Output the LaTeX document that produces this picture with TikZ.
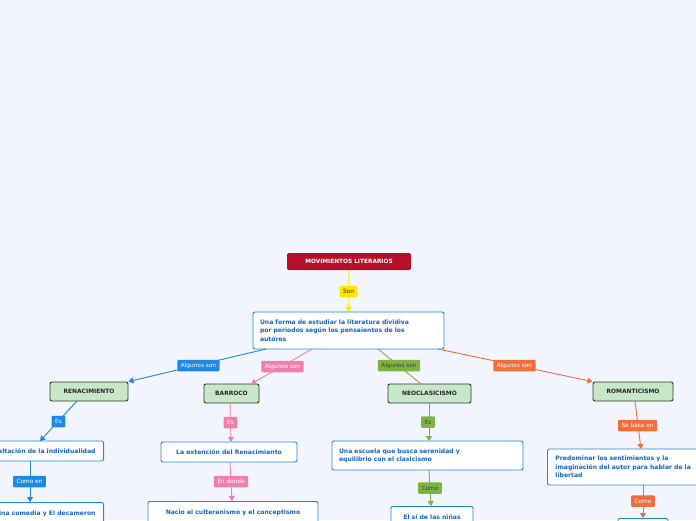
\documentclass[tikz,border=0pt]{standalone}
\usepackage{fontspec}
\setmainfont{DejaVu Sans}
\usetikzlibrary{arrows.meta}
\definecolor{bg}{RGB}{243,245,254}
\definecolor{cblue}{RGB}{30,136,229}
\definecolor{tblue}{RGB}{21,101,192}
\definecolor{cpink}{RGB}{240,128,170}
\definecolor{cgreen}{RGB}{124,179,66}
\definecolor{corange}{RGB}{240,110,60}
\definecolor{cyel}{RGB}{255,230,0}
\definecolor{cred}{RGB}{181,16,43}
\definecolor{mfill}{RGB}{200,230,201}
\definecolor{mdraw}{RGB}{40,60,45}
\tikzset{
 root/.style={fill=cred,text=white,rounded corners=2pt,font=\fontsize{5.8}{7}\selectfont\bfseries,minimum width=124pt,minimum height=17pt,inner sep=2pt},
 mainbox/.style={fill=mfill,draw=mdraw,line width=0.9pt,rounded corners=2pt,font=\fontsize{5.9}{7}\selectfont\bfseries,text=black!85,minimum height=19pt,inner sep=2pt},
 wbox/.style={fill=white,draw=cblue,line width=0.9pt,rounded corners=2pt,text=tblue,font=\fontsize{6.1}{8.3}\selectfont\bfseries,inner sep=0pt,align=left},
 lab/.style={fill=#1,text=white,font=\fontsize{5.8}{7}\selectfont,rounded corners=1pt,inner xsep=3.5pt,inner ysep=1.5pt,minimum height=11.5pt},
 con/.style={draw=#1,line width=0.9pt},
 arr/.style={con=#1,-{Triangle[length=5pt,width=6pt]}},
}
\begin{document}
\begin{tikzpicture}[x=1pt,y=-1pt]
\fill[bg] (0,0) rectangle (696,520);
\useasboundingbox (0,0) rectangle (696,520);
\clip (0,0) rectangle (696,520);
\node[root] (mov) at (349,261.5) {MOVIMIENTOS LITERARIOS};
\node[wbox,minimum width=191pt,minimum height=37pt,text width=177pt] (forma) at (348.5,330.5) {Una forma de estudiar la literatura dividiva\\por periodos según los pensaientos de los\\autores};
\node[mainbox,minimum width=78pt] (ren) at (89,391.5) {RENACIMIENTO};
\node[mainbox,minimum width=55pt] (bar) at (231.5,393.5) {BARROCO};
\node[mainbox,minimum width=83pt] (neo) at (429.5,393.5) {NEOCLASICISMO};
\node[mainbox,minimum width=80pt] (rom) at (633,391.5) {ROMANTICISMO};
\node[wbox,anchor=east,minimum height=20pt,inner xsep=8pt] (ind) at (104,451) {Exaltación de la individualidad};
\node[wbox,minimum width=136pt,minimum height=20pt,align=center] (ext) at (229,452) {La extención del Renacimiento};
\node[wbox,minimum width=191pt,minimum height=29pt,text width=177pt] (esc) at (427.5,455.5) {Una escuela que busca serenidad y\\equilibrio con el clasicismo};
\node[wbox,anchor=west,minimum height=36pt,text width=180pt,inner xsep=8pt] (pred) at (547,467) {Predominar los sentimientos y la\\imaginación del autor para hablar de la\\libertad};
\node[wbox,anchor=north east,minimum height=22pt,inner xsep=8pt] (div) at (104,502) {La Divina comedia y El decameron};
\node[wbox,anchor=north,minimum width=170pt,minimum height=22pt,align=center] (nac) at (233,501) {Nacio el culteranismo y el conceptismo};
\node[wbox,anchor=north,minimum width=82pt,minimum height=22pt,align=center] (si) at (432,506) {El sí de las niñas};
\node[wbox,anchor=north,minimum width=50pt,minimum height=22pt] (ro2) at (643,518) {};
% connectors
\draw[arr=cyel] (mov) -- (forma);
\node[lab=cyel,text=black!80] at (348.5,291.5) {Son};
\draw[arr=cblue] (266,349) -- (ren.north east);
\node[lab=cblue] at (198.5,365.5) {Algunos son};
\draw[arr=cpink] (312,349) -- (251,384);
\node[lab=cpink] at (282.5,366.5) {Algunos son};
\draw[con=cgreen] (378,349) -- (421,384);
\node[lab=cgreen,text=black!75] at (399,365.5) {Algunos son};
\draw[arr=corange] (438,349) -- (rom.north west);
\node[lab=corange] at (514.5,365.5) {Algunos son};
\draw[arr=cblue] (77,401) -- (40,441);
\node[lab=cblue] at (58.5,421.5) {Es};
\draw[arr=cpink] (230,403) -- (231,442);
\node[lab=cpink] at (230.5,422.5) {Es};
\draw[arr=cgreen] (429,403) -- (429,441);
\node[lab=cgreen,text=black!75] at (428,422) {Es};
\draw[arr=corange] (635,401) -- (641,449);
\node[lab=corange] at (637.5,425.5) {Se basa en};
\draw[arr=cblue] (30,461) -- (30,502);
\node[lab=cblue] at (29.5,481.5) {Como en};
\draw[arr=cpink] (230,462) -- (232,501);
\node[lab=cpink] at (231,481.5) {En donde};
\draw[arr=cgreen] (429,470) -- (431,506);
\node[lab=cgreen,text=black!75] at (430,488) {Como};
\draw[arr=corange] (643,485) -- (643,518);
\node[lab=corange] at (643,501) {Como};
\end{tikzpicture}
\end{document}
